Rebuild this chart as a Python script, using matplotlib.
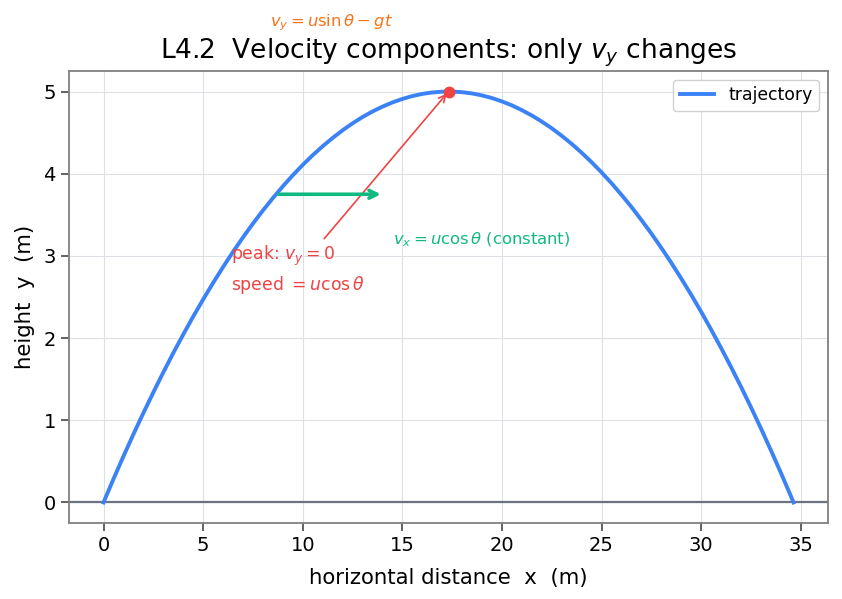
import numpy as np
import matplotlib
matplotlib.use("Agg")
import matplotlib.pyplot as plt

# Trajectory points (x in m, y in m)
x_traj = [0, 0.5, 1, 1.5, 2, 2.5, 3, 3.5, 4, 4.5, 5, 5.5, 6, 6.5, 7, 7.5, 8, 8.5,
          9, 9.5, 10, 10.5, 11, 11.5, 12, 12.5, 13, 13.5, 14, 14.5, 15, 15.5, 16,
          16.5, 17, 17.32, 17.5, 18, 18.5, 19, 19.5, 20, 20.5, 21, 21.5, 22, 22.5,
          23, 23.5, 24, 24.5, 25, 25.5, 26, 26.5, 27, 27.5, 28, 28.5, 29, 29.5,
          30, 30.5, 31, 31.5, 32, 32.5, 33, 33.5, 34, 34.5, 34.64]
y_traj = [0, 0.285, 0.561, 0.829, 1.088, 1.339, 1.582, 1.817, 2.043, 2.261, 2.470,
          2.671, 2.864, 3.049, 3.225, 3.393, 3.552, 3.703, 3.846, 3.981, 4.107,
          4.225, 4.334, 4.435, 4.528, 4.613, 4.689, 4.757, 4.816, 4.867, 4.910,
          4.945, 4.971, 4.989, 4.998, 5.0, 5.000, 4.992, 4.977, 4.953, 4.921,
          4.880, 4.832, 4.774, 4.709, 4.635, 4.553, 4.462, 4.364, 4.256, 4.141,
          4.017, 3.885, 3.744, 3.596, 3.438, 3.273, 3.099, 2.917, 2.726, 2.528,
          2.321, 2.105, 1.881, 1.649, 1.409, 1.160, 0.903, 0.637, 0.363, 0.081, 0]

peak = (17.32, 5.0)
vx_arrow_start = (8.66, 3.75)
vx_arrow_end = (14.06, 3.75)

BLUE = "#3b82f6"
GREEN = "#10b981"
RED = "#ef4444"
ORANGE = "#f97316"
GRAY = "#6b7280"

plt.rcParams['font.family'] = ['DejaVu Sans']

fig = plt.figure(figsize=(8.42, 5.99), dpi=100)
ax = fig.add_axes([69/842, 1 - 523/599, (828-69)/842, (523-71)/599])

ax.grid(True, color="#dde1e6", linewidth=0.8)
ax.set_axisbelow(True)
for s in ax.spines.values():
    s.set_color("#808080")
    s.set_linewidth(1.3)
ax.tick_params(direction="out", length=6, width=1.3, color="#555555", labelsize=14)

ax.axhline(0, color=GRAY, lw=1.6, zorder=1)
ax.plot(x_traj, y_traj, color=BLUE, lw=2.8, label="trajectory", zorder=3,
        solid_joinstyle="round")
ax.plot([peak[0]], [peak[1]], 'o', color=RED, ms=7.5, zorder=5)

ax.annotate("", xy=vx_arrow_end, xytext=vx_arrow_start,
            arrowprops=dict(arrowstyle="->", color=GREEN, lw=2.6, mutation_scale=14),
            zorder=4)
ax.text(14.52, 3.20, r"$v_x = u\cos\theta$ (constant)", color=GREEN, fontsize=11.8,
        ha="left", va="center")

ax.annotate("peak: $v_y = 0$\nspeed $= u\\cos\\theta$", xy=peak, xytext=(6.4, 2.83),
            color=RED, fontsize=12.4, ha="left", va="center", linespacing=1.4,
            arrowprops=dict(arrowstyle="->", color=RED, lw=1.2))

ax.text(8.35, 5.84, r"$v_y = u\sin\theta - gt$", color=ORANGE, fontsize=11.8,
        ha="left", va="center", clip_on=False)

ax.set_xlim(-1.732, 36.37)
ax.set_ylim(-0.25, 5.25)
ax.set_xlabel("horizontal distance  x  (m)", fontsize=15.3, labelpad=9)
ax.set_ylabel("height  y  (m)", fontsize=15.3, labelpad=6)
ax.set_title("L4.2  Velocity components: only $v_y$ changes", fontsize=19, pad=9)
ax.legend(loc="upper right", fontsize=12.4, framealpha=1, edgecolor="#d0d0d0")

fig.savefig("out.png", dpi=100)
